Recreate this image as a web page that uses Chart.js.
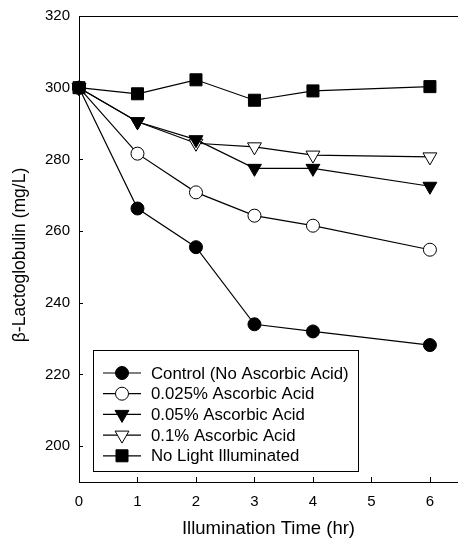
<!DOCTYPE html>
<html>
<head>
<meta charset="utf-8">
<script src="https://cdn.jsdelivr.net/npm/chart.js@4.4.1/dist/chart.umd.min.js"></script>
<style>
  html, body { margin: 0; padding: 0; background: #fff; }
  #wrap { width: 458px; height: 540px; }
</style>
</head>
<body>
<div id="wrap"><canvas id="chart" width="458" height="540"></canvas></div>
<script>
const FONT = "'Liberation Sans', Arial, Helvetica, sans-serif";

const times = [0, 1, 2, 3, 4, 6];
const xTicks = [0, 1, 2, 3, 4, 5, 6];
const yTicks = [200, 220, 240, 260, 280, 300, 320];

const controlValues = [300, 266.3, 255.5, 234, 232, 228.2];
const asc025Values = [300, 281.6, 270.8, 264.3, 261.5, 254.8];
const asc05Values = [300, 290.5, 285.5, 277.5, 277.5, 272.5];
const asc1Values = [300, 290.5, 284.5, 283.5, 281.2, 280.7];
const noLightValues = [300, 298.3, 302.2, 296.5, 299.1, 300.3];

const seriesLabels = [
  "Control (No Ascorbic Acid)",
  "0.025% Ascorbic Acid",
  "0.05% Ascorbic Acid",
  "0.1% Ascorbic Acid",
  "No Light Illuminated",
];

function toPoints(values) {
  return values.map((v, i) => ({ x: times[i], y: v }));
}

function makeSeries(label, values, style, fill, radius, rotation) {
  return {
    label,
    data: toPoints(values),
    borderColor: "#000",
    borderWidth: 1.2,
    pointStyle: style,
    pointRotation: rotation || 0,
    pointRadius: radius,
    pointHoverRadius: radius,
    pointBackgroundColor: fill,
    pointBorderColor: "#000",
    pointBorderWidth: 1,
    tension: 0,
    clip: false,
  };
}

const datasets = [
  makeSeries(seriesLabels[0], controlValues, "circle", "#000", 6.5),
  makeSeries(seriesLabels[1], asc025Values, "circle", "#fff", 6.5),
  makeSeries(seriesLabels[2], asc05Values, "triangle", "#000", 8, 180),
  makeSeries(seriesLabels[3], asc1Values, "triangle", "#fff", 8, 180),
  makeSeries(seriesLabels[4], noLightValues, "rect", "#000", 8.5),
];

// top frame line, inward ticks, y title and the boxed legend
const framePlugin = {
  id: "frame",
  afterDraw(chart) {
    const { ctx, chartArea, scales } = chart;
    ctx.save();
    ctx.strokeStyle = "#000";
    ctx.lineWidth = 1;
    ctx.beginPath();
    ctx.moveTo(chartArea.left, chartArea.top + 0.5);
    ctx.lineTo(chartArea.right, chartArea.top + 0.5);
    scales.x.ticks.forEach((t) => {
      const px = Math.round(scales.x.getPixelForValue(t.value)) + 0.5;
      ctx.moveTo(px, chartArea.bottom);
      ctx.lineTo(px, chartArea.bottom - 5);
    });
    scales.y.ticks.forEach((t) => {
      const py = Math.round(scales.y.getPixelForValue(t.value)) + 0.5;
      ctx.moveTo(chartArea.left, py);
      ctx.lineTo(chartArea.left + 4, py);
    });
    ctx.stroke();

    ctx.save();
    ctx.translate(20, 255);
    ctx.rotate(-Math.PI / 2);
    ctx.fillStyle = "#000";
    ctx.font = "17.5px " + FONT;
    ctx.textAlign = "center";
    ctx.textBaseline = "middle";
    ctx.fillText("β-Lactoglobulin (mg/L)", 0, 0);
    ctx.restore();

    const box = { x: 93.5, y: 350.5, w: 265, h: 121 };
    ctx.fillStyle = "#fff";
    ctx.fillRect(box.x, box.y, box.w, box.h);
    ctx.strokeRect(box.x, box.y, box.w, box.h);

    ctx.font = "16.8px " + FONT;
    ctx.textBaseline = "middle";
    chart.data.datasets.forEach((ds, i) => {
      const y = 373 + i * 20.7;
      ctx.strokeStyle = "#000";
      ctx.lineWidth = 1.2;
      ctx.beginPath();
      ctx.moveTo(103, y);
      ctx.lineTo(141, y);
      ctx.stroke();
      ctx.fillStyle = ds.pointBackgroundColor;
      ctx.strokeStyle = "#000";
      ctx.lineWidth = 1;
      Chart.helpers.drawPoint(ctx, {
        pointStyle: ds.pointStyle,
        rotation: ds.pointRotation,
        radius: ds.pointRadius,
        borderWidth: 1,
      }, 122, y);
      ctx.fillStyle = "#000";
      ctx.fillText(ds.label, 151, y + 1);
    });
    ctx.restore();
  },
};

new Chart(document.getElementById("chart"), {
  type: "line",
  data: { datasets },
  plugins: [framePlugin],
  options: {
    responsive: false,
    animation: false,
    layout: { autoPadding: false, padding: { top: 16, right: 0, left: 0, bottom: 0 } },
    plugins: { legend: { display: false }, tooltip: { enabled: false } },
    scales: {
      x: {
        type: "linear",
        min: 0,
        max: 6.48,
        afterBuildTicks: (axis) => { axis.ticks = xTicks.map((v) => ({ value: v })); },
        afterFit: (axis) => {
          axis.height = 58;
          axis.paddingLeft = 0;
          axis.paddingRight = 0;
        },
        grid: { display: false, drawTicks: false },
        border: { display: true, color: "#000", width: 1 },
        ticks: { color: "#000", font: { family: FONT, size: 15 }, padding: 11, maxRotation: 0 },
        title: {
          display: true,
          text: "Illumination Time (hr)",
          color: "#000",
          font: { family: FONT, size: 18.5 },
          padding: { top: 0, bottom: 0 },
        },
      },
      y: {
        type: "linear",
        min: 190,
        max: 320,
        afterBuildTicks: (axis) => { axis.ticks = yTicks.map((v) => ({ value: v })); },
        afterFit: (axis) => {
          axis.width = 79;
          axis.paddingTop = 0;
          axis.paddingBottom = 0;
        },
        grid: { display: false, drawTicks: false },
        border: { display: true, color: "#000", width: 1 },
        ticks: { color: "#000", font: { family: FONT, size: 15 }, padding: 9 },
      },
    },
  },
});
</script>
</body>
</html>
